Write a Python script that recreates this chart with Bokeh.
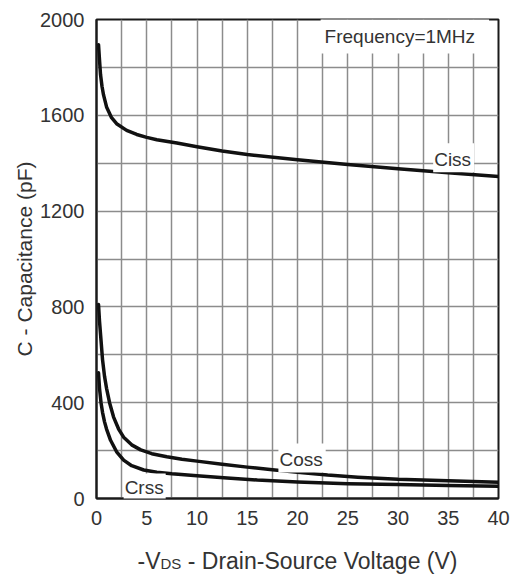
from bokeh.plotting import figure
from bokeh.models import FixedTicker, Label, Range1d, Div
from bokeh.layouts import column
from bokeh.embed import file_html
from bokeh.resources import INLINE

# ---- data ----
v_ciss = [0.2, 0.3, 0.4, 0.55, 0.7, 1.0, 1.5, 2.0, 3.0, 4.0, 5.0, 6.0, 8.0, 10, 12.5, 15, 20, 25, 30, 35, 40]
c_ciss = [1895, 1830, 1770, 1720, 1685, 1635, 1590, 1565, 1537, 1520, 1508, 1498, 1484, 1469, 1451, 1436, 1414, 1395, 1377, 1360, 1344]

v_coss = [0.2, 0.3, 0.45, 0.6, 0.8, 1.0, 1.3, 1.7, 2.2, 2.7, 3.5, 4.4, 5.5, 7, 8.5, 10, 12.5, 15, 17.5, 20, 23, 26, 30, 35, 40]
c_coss = [810, 740, 660, 580, 510, 460, 400, 340, 290, 256, 224, 203, 187, 174, 164, 156, 143, 131, 120, 110, 98, 89, 80, 74, 68]

v_crss = [0.2, 0.3, 0.45, 0.6, 0.8, 1.0, 1.4, 2.0, 2.7, 3.5, 4.7, 6, 7.5, 10, 13, 16, 20, 25, 30, 35, 40]
c_crss = [525, 460, 400, 360, 320, 290, 243, 195, 160, 137, 119, 110, 103, 95, 86, 77, 69, 62, 58, 54, 51]

x_ticks = [0, 5, 10, 15, 20, 25, 30, 35, 40]
y_ticks = [0, 400, 800, 1200, 1600, 2000]
x_grid = [0, 2.5, 5, 7.5, 10, 12.5, 15, 17.5, 20, 22.5, 25, 27.5, 30, 32.5, 35, 37.5, 40]
y_grid = [0, 200, 400, 600, 800, 1000, 1200, 1400, 1600, 1800, 2000]

FONT = "Liberation Sans"
TXT = "#333333"

p = figure(width=511, height=545, x_range=Range1d(0, 40), y_range=Range1d(0, 2000),
           output_backend="svg", toolbar_location=None,
           min_border_left=96, min_border_right=13, min_border_top=19, min_border_bottom=47)
p.background_fill_color = "white"
p.border_fill_color = "white"
p.outline_line_color = "#1a1a1a"
p.outline_line_width = 2

p.xaxis.ticker = FixedTicker(ticks=x_ticks)
p.yaxis.ticker = FixedTicker(ticks=y_ticks)
p.xgrid.ticker = FixedTicker(ticks=x_grid)
p.ygrid.ticker = FixedTicker(ticks=y_grid)
for g in (p.xgrid, p.ygrid):
    g.grid_line_color = "#8c8c8c"
    g.grid_line_width = 1.5
    g.grid_line_alpha = 1.0

for ax in (p.xaxis, p.yaxis):
    ax.major_tick_line_color = None
    ax.minor_tick_line_color = None
    ax.axis_line_color = "#1a1a1a"
    ax.axis_line_width = 2
    ax.major_label_text_font = FONT
    ax.major_label_text_font_size = "20px"
    ax.major_label_text_color = TXT

p.xaxis.major_label_standoff = 6
p.yaxis.major_label_standoff = 6
p.yaxis.axis_label = "C - Capacitance (pF)"
p.yaxis.axis_label_text_font = FONT
p.yaxis.axis_label_text_font_size = "21px"
p.yaxis.axis_label_text_font_style = "normal"
p.yaxis.axis_label_text_color = TXT
p.yaxis.axis_label_standoff = 1

for v, c in ((v_ciss, c_ciss), (v_coss, c_coss), (v_crss, c_crss)):
    p.line(v, c, line_width=3.5, line_color="#111111", line_join="round", line_cap="round")

def lab(x, y, text, size="19px", pad=3):
    l = Label(x=x, y=y, text=text, text_font=FONT, text_font_size=size, text_color=TXT,
              text_align="left", text_baseline="middle",
              background_fill_color="white", padding=pad)
    p.add_layout(l)
    return l

lab(22.3, 1931, "Frequency=1MHz", size="19px", pad=(4, 14, 7, 7))
lab(33.5, 1423, "Ciss", pad=(1, 3, 6, 2))
lab(18.1, 169, "Coss", pad=(1, 3, 5, 3))
lab(2.7, 48, "Crss", pad=(1, 2, 3, 3))

xlabel = Div(
    text=('<div style="font-family:\'Liberation Sans\'; font-size:23px; color:#333333; '
          'text-align:center; white-space:nowrap; margin-left:84px; width:427px; padding-top:0px;">'
          '-V<span style="font-size:15px">DS</span> - Drain-Source Voltage (V)</div>'),
    width=511, height=32, margin=0)

layout = column(p, xlabel, spacing=0, margin=0)

open("out.html", "w").write(file_html(layout, INLINE))
